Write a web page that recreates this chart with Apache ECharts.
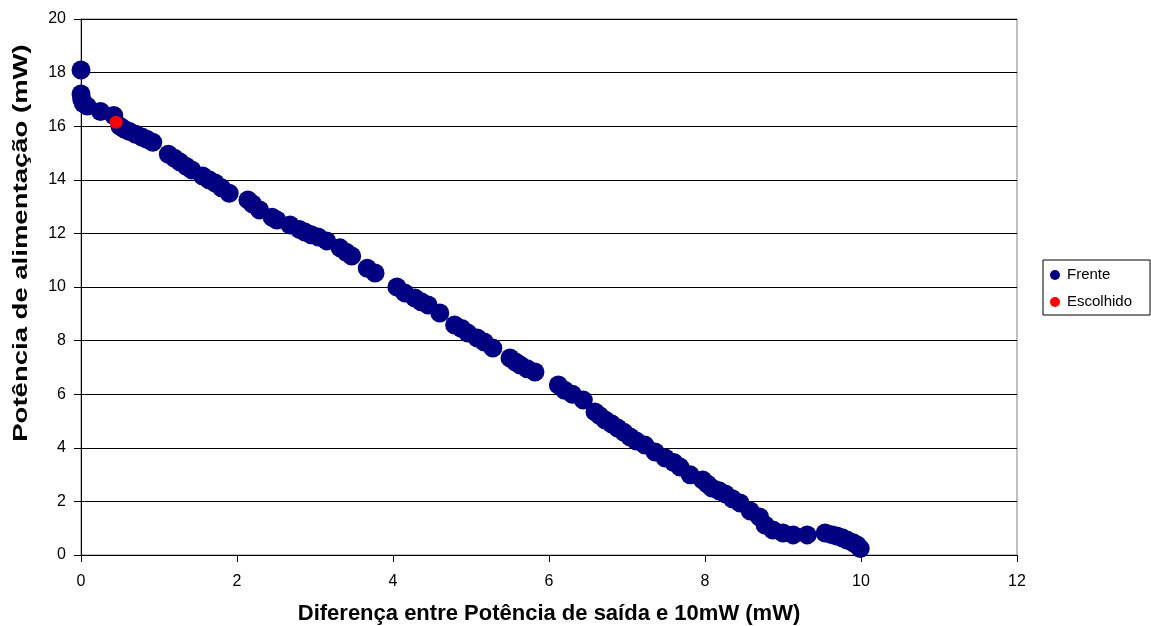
<!DOCTYPE html>
<html>
<head>
<meta charset="utf-8">
<script src="https://cdn.jsdelivr.net/npm/echarts@6/dist/echarts.min.js"></script>
<style>html,body{margin:0;padding:0;background:#fff}#c{width:1151px;height:626px}</style>
</head>
<body>
<div id="c"></div>
<script>
const frenteX = [0, 0, 0.01, 0.03, 0.08, 0.25, 0.42, 0.5, 0.55, 0.62, 0.7, 0.78, 0.85, 0.92,
  1.12, 1.2, 1.27, 1.35, 1.42, 1.56, 1.64, 1.72, 1.8, 1.9, 2.14, 2.2, 2.29, 2.45, 2.51, 2.68,
  2.8, 2.87, 2.95, 3.04, 3.15, 3.32, 3.4, 3.47, 3.67, 3.77,
  4.05, 4.15, 4.28, 4.36, 4.45, 4.6, 4.79, 4.88, 4.96, 5.08, 5.17, 5.28, 5.5, 5.57, 5.63, 5.72, 5.82,
  6.12, 6.2, 6.3, 6.44, 6.59, 6.65, 6.72, 6.8, 6.88, 6.96, 7.04, 7.12, 7.23, 7.36, 7.49,
  7.6, 7.68, 7.81, 7.97, 8.03, 8.09, 8.18, 8.26, 8.35, 8.45, 8.58, 8.7, 8.77, 8.87, 9.0, 9.13, 9.31,
  9.54, 9.62, 9.69, 9.76, 9.82, 9.9, 9.95, 9.99];
const frenteY = [18.1, 17.2, 17.0, 16.85, 16.75, 16.55, 16.4, 16.0, 15.9, 15.8, 15.7, 15.6, 15.5, 15.4,
  14.95, 14.8, 14.66, 14.5, 14.37, 14.14, 14.0, 13.88, 13.7, 13.5, 13.25, 13.1, 12.87, 12.6, 12.5, 12.31,
  12.15, 12.05, 11.95, 11.87, 11.72, 11.46, 11.3, 11.16, 10.7, 10.52,
  10.0, 9.78, 9.59, 9.45, 9.33, 9.03, 8.58, 8.45, 8.28, 8.1, 7.95, 7.72, 7.35, 7.2, 7.09, 6.95, 6.83,
  6.34, 6.15, 6.0, 5.78, 5.34, 5.2, 5.04, 4.9, 4.74, 4.58, 4.4, 4.25, 4.1, 3.84, 3.62,
  3.45, 3.28, 2.99, 2.8, 2.65, 2.5, 2.4, 2.28, 2.1, 1.94, 1.64, 1.42, 1.12, 0.93, 0.82, 0.75, 0.75,
  0.82, 0.76, 0.71, 0.64, 0.56, 0.46, 0.37, 0.24];
const escolhidoX = [0.45];
const escolhidoY = [16.15];
const xTicks = [0, 2, 4, 6, 8, 10, 12];
const yTicks = [0, 2, 4, 6, 8, 10, 12, 14, 16, 18, 20];
const xTitle = 'Diferença entre Potência de saída e 10mW (mW)';
const yTitle = 'Potência de alimentação (mW)';

const chart = echarts.init(document.getElementById('c'), null, {renderer: 'canvas'});
const font = 'Liberation Sans, Arial, sans-serif';
chart.setOption({
  animation: false,
  backgroundColor: '#fff',
  grid: {left: 81, right: 134, top: 19, bottom: 71, show: true, borderColor: '#808080', borderWidth: 1,
    outerBoundsMode: 'none', containLabel: false},
  legend: {
    orient: 'vertical', left: 1043, top: 260,
    itemWidth: 10, itemHeight: 10, itemGap: 11, icon: 'circle',
    borderColor: '#000', borderWidth: 1, padding: [7, 18, 5, 7],
    textStyle: {fontFamily: font, fontSize: 15, lineHeight: 16, color: '#000', padding: [0, 0, 0, 2]},
    data: ['Frente', 'Escolhido']
  },
  graphic: [{
    type: 'text', x: 21, y: 243, rotation: Math.PI / 2, scaleX: 1.31, scaleY: 1,
    style: {text: yTitle, font: 'bold 21px ' + font, fill: '#000', align: 'center', verticalAlign: 'middle'}
  }],
  xAxis: {
    type: 'value', min: 0, max: 12, interval: 2,
    name: xTitle, nameLocation: 'middle', nameGap: 48,
    nameTextStyle: {fontFamily: font, fontSize: 22, fontWeight: 'bold', color: '#000'},
    axisLine: {show: true, onZero: false, lineStyle: {color: '#000', width: 1}},
    axisTick: {show: true, length: 7, lineStyle: {color: '#000'}},
    axisLabel: {fontFamily: font, fontSize: 16, color: '#000', margin: 19,
      formatter: v => xTicks.includes(v) ? String(v) : ''},
    splitLine: {show: false}
  },
  yAxis: {
    type: 'value', min: 0, max: 20, interval: 2,
    axisLine: {show: true, onZero: false, lineStyle: {color: '#000', width: 1}},
    axisTick: {show: true, length: 7, lineStyle: {color: '#000'}},
    axisLabel: {fontFamily: font, fontSize: 16, color: '#000', margin: 15,
      formatter: v => yTicks.includes(v) ? String(v) : ''},
    splitLine: {show: true, lineStyle: {color: '#000', width: 1}}
  },
  series: [
    {name: 'Frente', type: 'scatter', symbolSize: 19, itemStyle: {color: '#000080', opacity: 1},
      data: frenteX.map((x, i) => [x, frenteY[i]])},
    {name: 'Escolhido', type: 'scatter', symbolSize: 13, itemStyle: {color: '#ff0000', opacity: 1},
      data: escolhidoX.map((x, i) => [x, escolhidoY[i]])}
  ]
});
</script>
</body>
</html>
